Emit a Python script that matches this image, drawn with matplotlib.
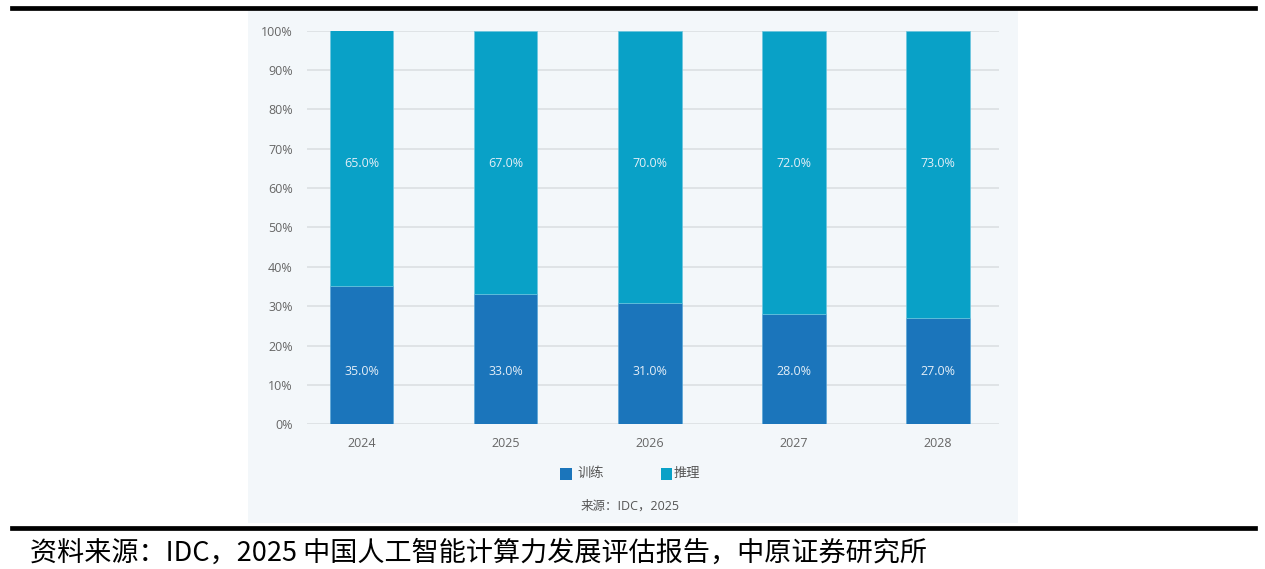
import numpy as np
import matplotlib.pyplot as plt
from matplotlib.patches import Rectangle
from matplotlib.lines import Line2D

plt.rcParams['font.family'] = ['Open Sans', 'Noto Sans CJK SC', 'DejaVu Sans']

years = ['2024', '2025', '2026', '2027', '2028']
train = [35.0, 33.0, 31.0, 28.0, 27.0]   # 训练
infer = [65.0, 67.0, 70.0, 72.0, 73.0]   # 推理

c_train = '#1B75BB'
c_infer = '#09A1C7'
bg = '#F3F7FA'

fig = plt.figure(figsize=(12.65, 5.69), dpi=100)

# light panel behind the chart (below the axes)
fig.patches.append(Rectangle((248/1265, 1-522.5/569), 770/1265, 512.5/569,
                             transform=fig.transFigure, facecolor=bg, edgecolor='none', zorder=-1))
# black rules top and bottom
fig.lines.append(Line2D([12/1265, 1255/1265], [1-7.5/569]*2, transform=fig.transFigure,
                        color='black', lw=3.4))
fig.lines.append(Line2D([12/1265, 1255/1265], [1-527.5/569]*2, transform=fig.transFigure,
                        color='black', lw=3.4))

ax = fig.add_axes([306.7/1265, 1-424.3/569, 692.3/1265, 393.8/569])
ax.patch.set_alpha(0)

x = np.arange(len(years))
tot = np.array(train) + np.array(infer)
tr = np.array(train) / tot
inf = np.array(infer) / tot
w = 0.44
ax.bar(x, tr, w, color=c_train, edgecolor='#5aa6d6', linewidth=0.5, zorder=3, label='训练')
ax.bar(x, inf, w, bottom=tr, color=c_infer, edgecolor='#6cc6df', linewidth=0.5, zorder=3, label='推理')

for i in range(len(years)):
    ax.text(x[i], 0.135, '%.1f%%' % train[i], ha='center', va='center', fontsize=9,
            color='#E3EEF7', zorder=4)
    ax.text(x[i], 0.663, '%.1f%%' % infer[i], ha='center', va='center', fontsize=9,
            color='#E3EEF7', zorder=4)

ax.set_xlim(-0.382, 4.424)
ax.set_ylim(0, 1)
ax.set_yticks(np.arange(0, 1.01, 0.1))
ax.set_yticklabels(['%d%%' % v for v in range(0, 101, 10)])
ax.set_xticks(x)
ax.set_xticklabels(years)
ax.yaxis.grid(True, color='#DCDFE3', lw=1.2, zorder=0)
ax.set_axisbelow(True)
ax.tick_params(axis='y', length=0, pad=10, labelsize=9, labelcolor='#666666')
ax.tick_params(axis='x', length=0, pad=9, labelsize=9, labelcolor='#666666')
for s in ax.spines.values():
    s.set_visible(False)

# legend
fig.patches.append(Rectangle((560/1265, 1-479.5/569), 11.5/1265, 11.5/569, transform=fig.transFigure,
                             facecolor=c_train, edgecolor='none'))
fig.text(577/1265, 1-473.5/569, '训练', fontsize=9.5, color='#555555', va='center', ha='left')
fig.patches.append(Rectangle((660.5/1265, 1-479.5/569), 11.5/1265, 11.5/569, transform=fig.transFigure,
                             facecolor=c_infer, edgecolor='none'))
fig.text(674/1265, 1-473.5/569, '推理', fontsize=9.5, color='#555555', va='center', ha='left')

fig.text(630/1265, 1-506.5/569, '来源：IDC，2025', fontsize=9, color='#555555', va='center', ha='center')

fig.text(30/1265, 1-553/569, '资料来源：IDC，2025 中国人工智能计算力发展评估报告，中原证券研究所',
         fontsize=19.5, color='black', va='center', ha='left',
         family=['Noto Sans CJK SC', 'DejaVu Sans'])

plt.savefig('out.png', dpi=100, facecolor='white')
